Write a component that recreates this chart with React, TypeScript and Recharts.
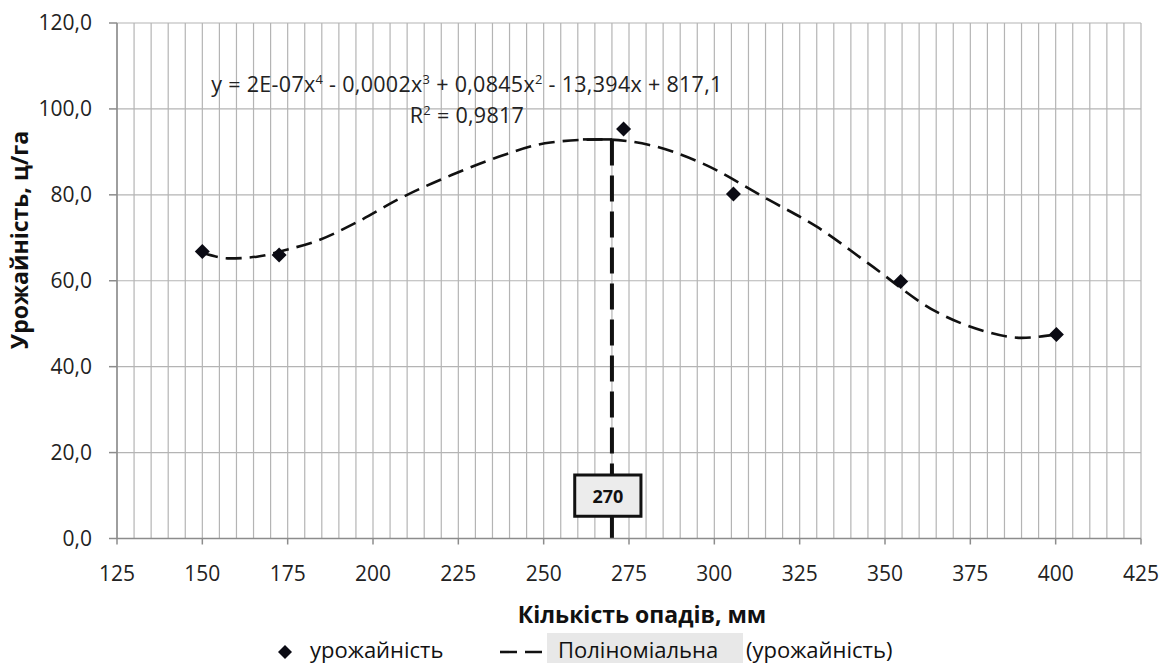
import React from 'react';
import {
  ComposedChart,
  Line,
  Scatter,
  XAxis,
  YAxis,
  CartesianGrid,
  ReferenceLine,
  ReferenceArea,
} from 'recharts';

// ---- data ----
const xTicks = [125, 150, 175, 200, 225, 250, 275, 300, 325, 350, 375, 400, 425];
const yTicks = [0, 20, 40, 60, 80, 100, 120];

// observed yield points (precipitation mm, yield c/ha)
const obsX = [150, 172.5, 273.4, 305.6, 354.6, 400.2];
const obsY = [66.8, 66.0, 95.3, 80.2, 59.8, 47.5];

// polynomial trend line
const trendX = [150, 158, 166, 175, 183, 195, 208, 223, 237, 252, 267, 281, 296, 316, 330, 345, 365, 379, 390, 400];
const trendY = [66.5, 65.2, 65.6, 67.3, 69.1, 73.5, 79.2, 84.6, 88.9, 92.2, 92.9, 91.6, 87.5, 78.8, 72.6, 64.1, 52.8, 48.3, 46.7, 47.5];

// optimum annotation
const optimumX = 270;
const optimumY = 92.9;
const shoulderX = 261.5;
const boxX = [259.1, 278.5];
const boxY = [5.2, 14.8];
const optimumLabel = '270';

const equationText = ['y = 2E-07x', '4', ' - 0,0002x', '3', ' + 0,0845x', '2', ' - 13,394x + 817,1'];
const r2Text = ['R', '2', ' = 0,9817'];
const xTitle = 'Кількість опадів, мм';
const yTitle = 'Урожайність, ц/га';
const legendObs = 'урожайність';
const legendTrendA = 'Поліноміальна';
const legendTrendB = '(урожайність)';

const obsData = obsX.map((x, i) => ({ x, y: obsY[i] }));
const trendData = trendX.map((x, i) => ({ x, y: trendY[i] }));
const gridXs: number[] = [];
for (let v = 125; v <= 425; v += 5) gridXs.push(v);

const FONT = "'Open Sans', 'Noto Sans', sans-serif";
const W = 1162;
const H = 663;

const fmtY = (v: number) => v.toFixed(1).replace('.', ',');

const Diamond = (props: any) => {
  const { cx, cy } = props;
  if (cx == null || cy == null) return null;
  const r = 7.5;
  return (
    <polygon
      points={`${cx},${cy - r} ${cx + r},${cy} ${cx},${cy + r} ${cx - r},${cy}`}
      fill="#0b0b14"
    />
  );
};

const BoxLabel = (props: any) => {
  const vb = props.viewBox || {};
  const cx = vb.x + vb.width / 2;
  const cy = vb.y + vb.height / 2;
  return (
    <text
      x={cx}
      y={cy}
      textAnchor="middle"
      dominantBaseline="central"
      fontFamily={FONT}
      fontWeight={700}
      fontSize={18}
      fill="#111"
    >
      {optimumLabel}
    </text>
  );
};

const renderSup = (parts: string[]) =>
  parts.map((p, i) =>
    i % 2 === 1 ? (
      <sup key={i} style={{ fontSize: '0.6em', verticalAlign: '0.6em', lineHeight: 0 }}>
        {p}
      </sup>
    ) : (
      <span key={i}>{p}</span>
    )
  );

const eqLine = (top: number): React.CSSProperties => ({
  position: 'absolute',
  left: 167,
  width: 600,
  top,
  height: 22,
  lineHeight: '22px',
  textAlign: 'center',
  fontSize: 21.5,
  letterSpacing: 0.3,
  color: '#222',
  whiteSpace: 'nowrap',
});

export default function App() {
  return (
    <div style={{ position: 'absolute', left: 0, top: 0, width: W, height: H, background: '#fff', fontFamily: FONT }}>
      <ComposedChart
        width={W}
        height={H}
        margin={{ top: 23, right: 21, bottom: 84.5, left: 37 }}
      >
        <CartesianGrid
          stroke="#b4b4b4"
          strokeWidth={1.2}
          verticalCoordinatesGenerator={(args: any) => {
            const sc = args?.xAxis?.scale;
            if (sc && typeof sc === 'function') return gridXs.map((v) => sc(v));
            const off = args.offset;
            return gridXs.map((v) => off.left + ((v - 125) / 300) * off.width);
          }}
        />
        <XAxis
          type="number"
          dataKey="x"
          domain={[125, 425]}
          ticks={xTicks}
          allowDataOverflow
          height={40}
          tickSize={6}
          tickMargin={22}
          axisLine={{ stroke: '#8c8c8c', strokeWidth: 1.5 }}
          tickLine={{ stroke: '#8c8c8c', strokeWidth: 1.5 }}
          tick={{ fontFamily: FONT, fontSize: 21, fill: '#222' }}
        />
        <YAxis
          type="number"
          dataKey="y"
          domain={[0, 120]}
          ticks={yTicks}
          width={80}
          tickSize={8}
          tickMargin={17}
          tickFormatter={fmtY}
          axisLine={{ stroke: '#8c8c8c', strokeWidth: 1.5 }}
          tickLine={{ stroke: '#8c8c8c', strokeWidth: 1.5 }}
          tick={{ fontFamily: FONT, fontSize: 21, fill: '#222' }}
        />
        <Line
          data={trendData}
          dataKey="y"
          type="monotone"
          stroke="#111"
          strokeWidth={2.6}
          strokeDasharray="16 8"
          dot={false}
          activeDot={false}
          isAnimationActive={false}
        />
        <ReferenceLine
          segment={[
            { x: shoulderX, y: optimumY },
            { x: optimumX, y: optimumY },
          ]}
          stroke="#111"
          strokeWidth={2.6}
        />
        <ReferenceLine
          segment={[
            { x: optimumX, y: optimumY },
            { x: optimumX, y: boxY[1] },
          ]}
          stroke="#111"
          strokeWidth={4}
          strokeDasharray="26 10"
        />
        <ReferenceLine
          segment={[
            { x: optimumX, y: boxY[0] },
            { x: optimumX, y: 0 },
          ]}
          stroke="#111"
          strokeWidth={4}
        />
        <ReferenceArea
          x1={boxX[0]}
          x2={boxX[1]}
          y1={boxY[0]}
          y2={boxY[1]}
          fill="#ececec"
          fillOpacity={1}
          stroke="#111"
          strokeWidth={3}
          label={<BoxLabel />}
        />
        <Scatter data={obsData} dataKey="y" shape={<Diamond />} isAnimationActive={false} />
      </ComposedChart>

      {/* trend equation */}
      <div style={eqLine(73)}>{renderSup(equationText)}</div>
      <div style={eqLine(104)}>{renderSup(r2Text)}</div>

      {/* axis titles */}
      <div
        style={{
          position: 'absolute',
          left: 342,
          width: 600,
          top: 598,
          textAlign: 'center',
          fontSize: 23,
          fontWeight: 700,
          color: '#111',
          whiteSpace: 'nowrap',
        }}
      >
        {xTitle}
      </div>
      <div
        style={{
          position: 'absolute',
          left: 19,
          top: 240,
          transform: 'translate(-50%, -50%) rotate(-90deg)',
          fontSize: 23,
          fontWeight: 700,
          color: '#111',
          whiteSpace: 'nowrap',
        }}
      >
        {yTitle}
      </div>

      {/* legend */}
      <div style={{ position: 'absolute', left: 0, top: 633, width: W, height: 30, fontSize: 22, color: '#111' }}>
        <svg style={{ position: 'absolute', left: 277, top: 11 }} width={16} height={16}>
          <polygon points="8,1 15,8 8,15 1,8" fill="#0b0b14" />
        </svg>
        <div style={{ position: 'absolute', left: 310, top: 1, whiteSpace: 'nowrap' }}>{legendObs}</div>
        <svg style={{ position: 'absolute', left: 500, top: 17 }} width={44} height={4}>
          <line x1={0} y1={2} x2={44} y2={2} stroke="#111" strokeWidth={2.6} strokeDasharray="17 8" />
        </svg>
        <div style={{ position: 'absolute', left: 547, top: 0, width: 196, height: 30, background: '#e8e8e8' }} />
        <div style={{ position: 'absolute', left: 558, top: 1, whiteSpace: 'nowrap' }}>{legendTrendA}</div>
        <div style={{ position: 'absolute', left: 746, top: 1, whiteSpace: 'nowrap' }}>{legendTrendB}</div>
      </div>
    </div>
  );
}
